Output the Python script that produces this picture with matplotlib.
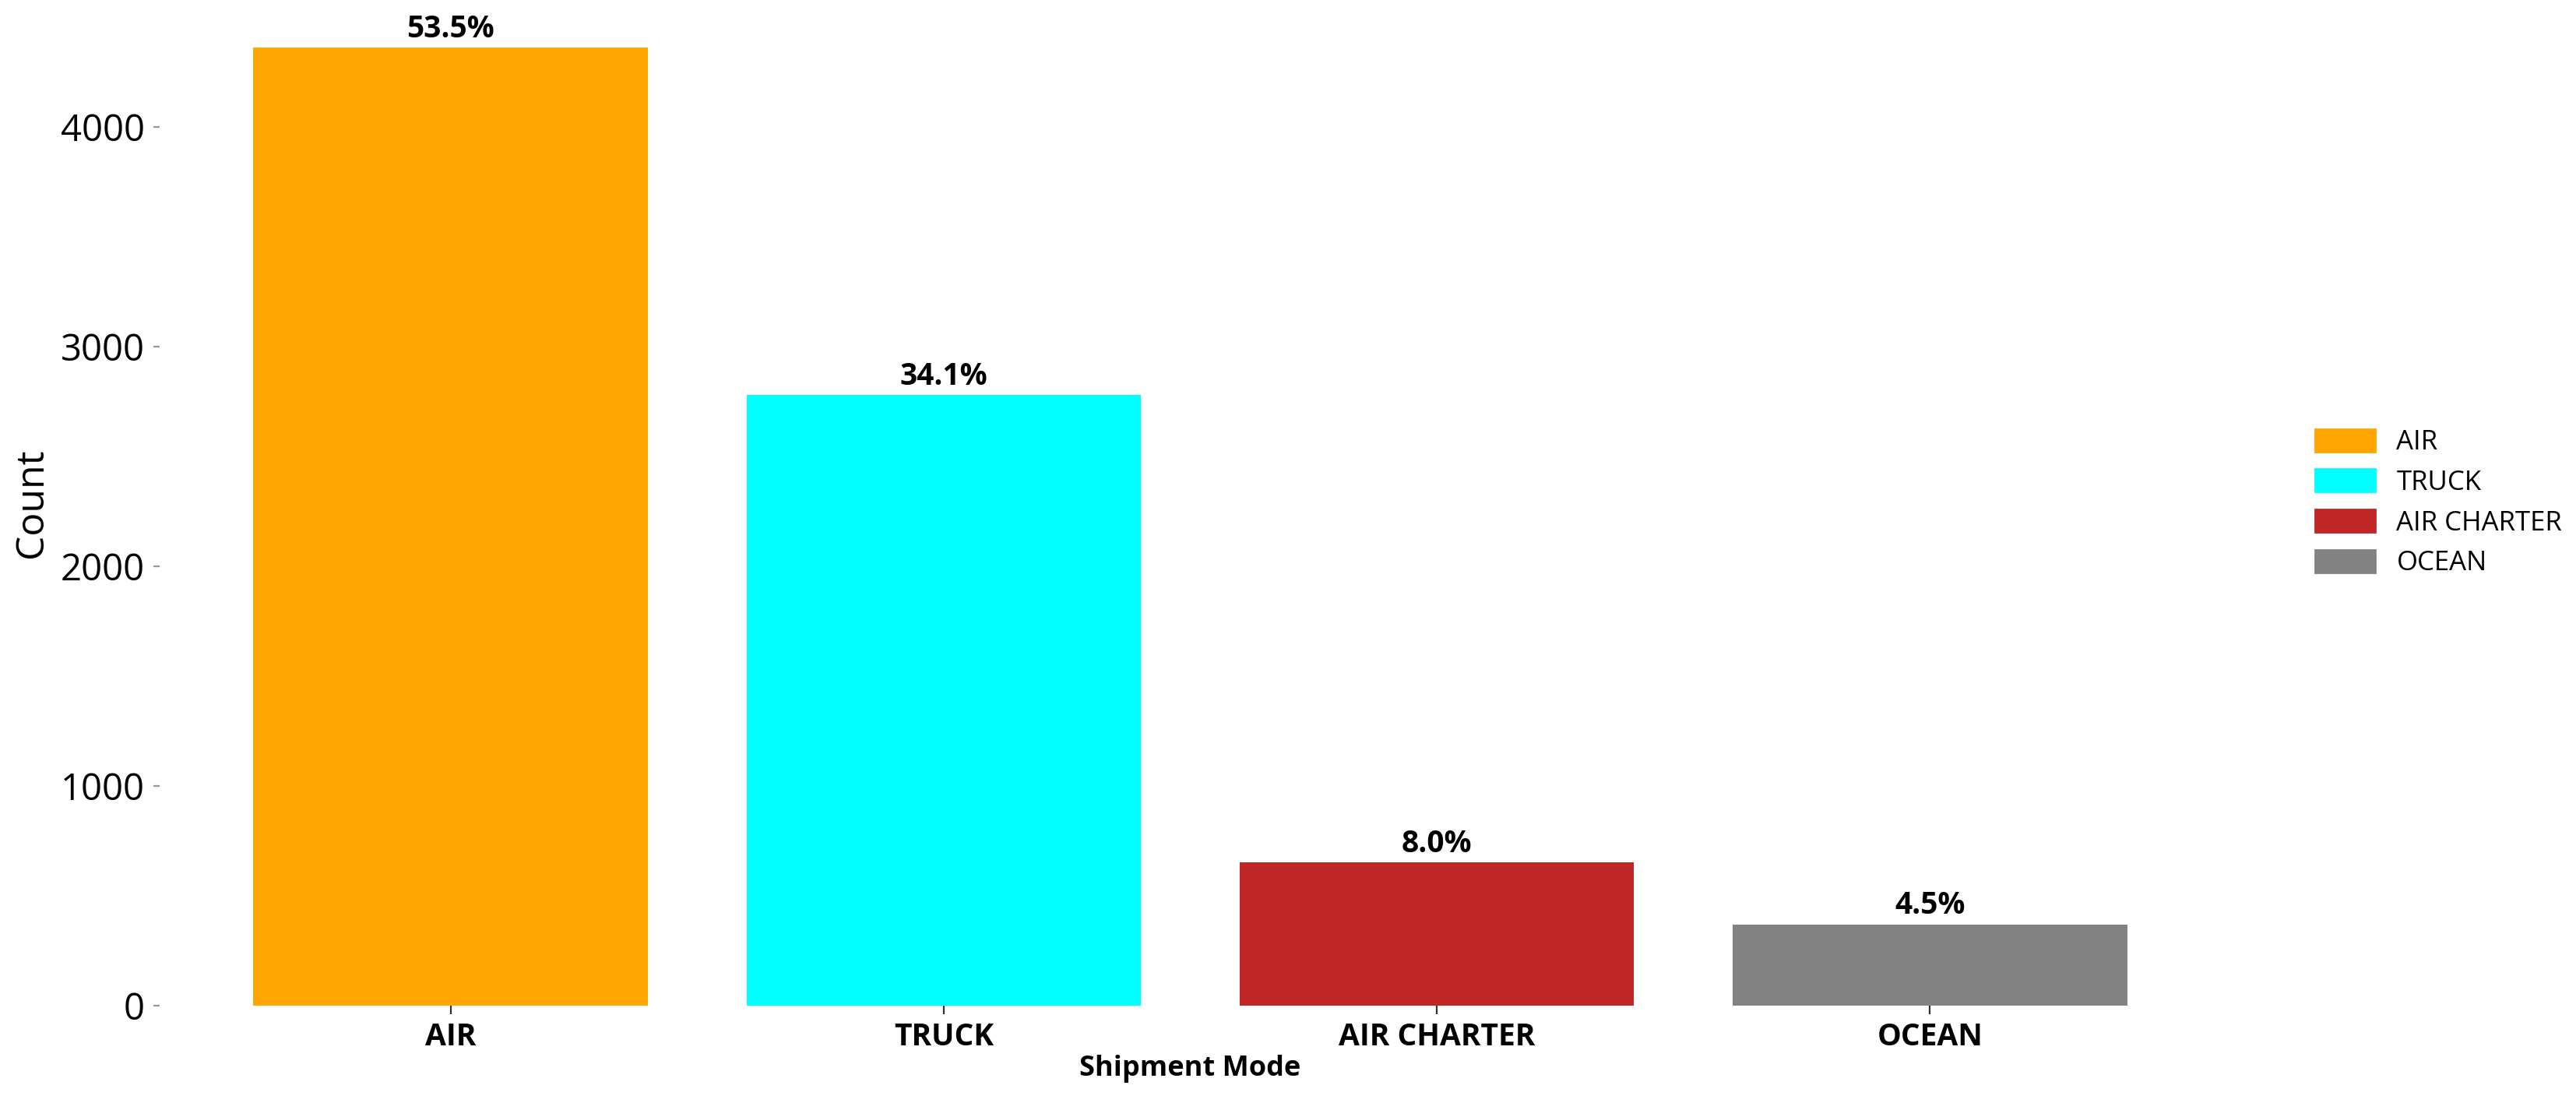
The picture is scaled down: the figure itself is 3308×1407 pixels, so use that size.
import matplotlib
matplotlib.use('Agg')
import matplotlib.pyplot as plt
import matplotlib.patches as mpatches

# shipment mode counts
modes = ['AIR', 'TRUCK', 'AIR CHARTER', 'OCEAN']
counts = [4360, 2780, 652, 370]
pct_labels = ['53.5%', '34.1%', '8.0%', '4.5%']
colors = ['#FFA500', '#00FFFF', '#C02626', '#828282']
yticks = [0, 1000, 2000, 3000, 4000]

plt.rcParams['font.family'] = ['Open Sans', 'DejaVu Sans']

fig = plt.figure(figsize=(16.54, 7.035), dpi=200)
ax = fig.add_axes([205 / 3308, 1 - 1291 / 1407, (2852 - 205) / 3308, 1291 / 1407])

bars = ax.bar(modes, counts, color=colors, width=0.8)

# percentage on top of each bar
for b, lab in zip(bars, pct_labels):
    ax.text(b.get_x() + b.get_width() / 2, b.get_height() + 15, lab,
            ha='center', va='bottom', fontsize=14, fontweight='bold')

for s in ax.spines.values():
    s.set_visible(False)

ax.set_yticks(yticks)
ax.tick_params(axis='y', labelsize=17, length=3, color='#999999', pad=4)
ax.tick_params(axis='x', labelsize=14, length=4, color='#333333', width=0.8)
for t in ax.get_xticklabels():
    t.set_fontweight('bold')

ax.set_ylabel('Count', fontsize=18, labelpad=4)
ax.set_xlabel('Shipment Mode', fontsize=13, fontweight='bold', labelpad=1)

handles = [mpatches.Patch(color=c, label=m) for c, m in zip(colors, modes)]
ax.legend(handles=handles, loc='center left', bbox_to_anchor=(1.034, 0.5),
          frameon=False, fontsize=12.5, handlelength=2.2, handleheight=0.9,
          labelspacing=0.5)

fig.savefig('out.png', dpi=200)
